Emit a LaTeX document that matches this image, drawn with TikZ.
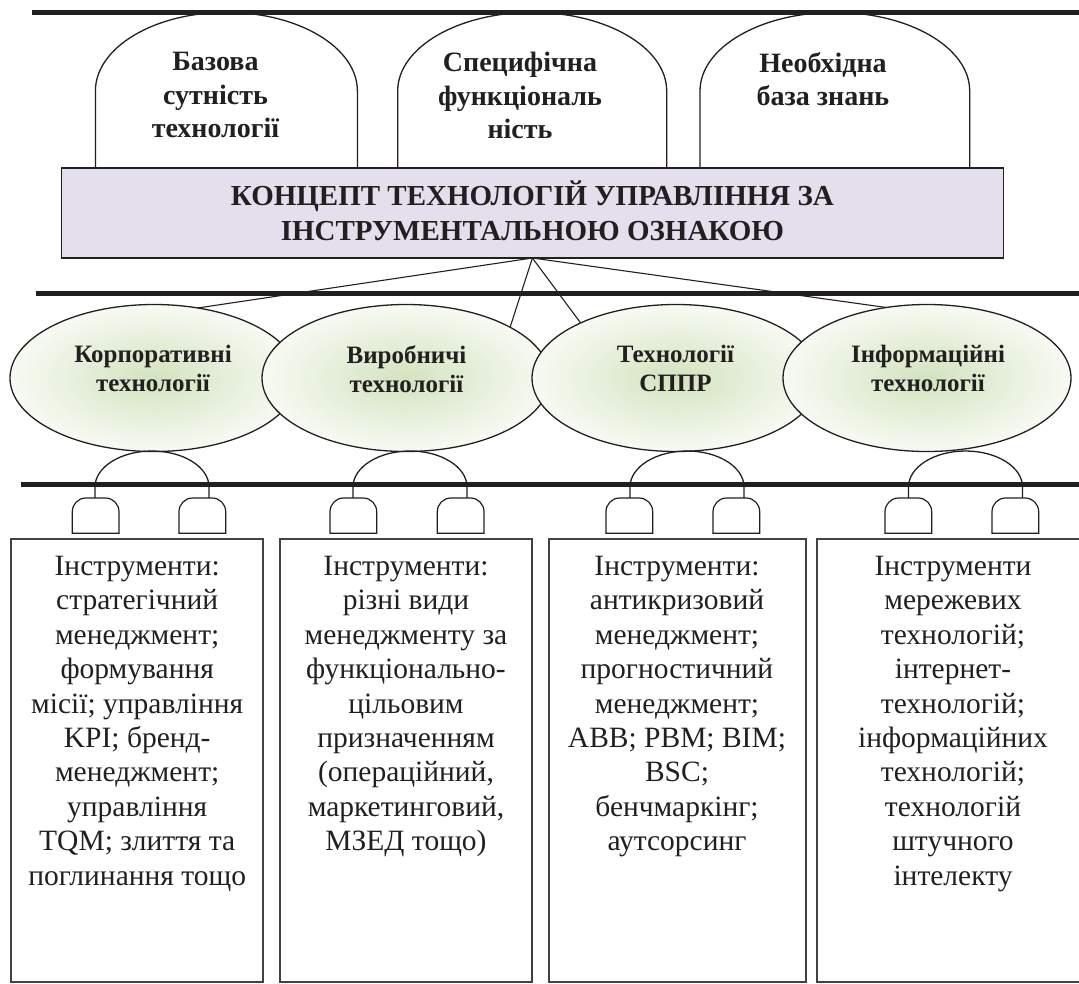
\documentclass[tikz,border=0pt]{standalone}
\usepackage{fontspec}
\setmainfont{Liberation Serif}
\usetikzlibrary{shapes.geometric}
\definecolor{ink}{HTML}{231F20}
\definecolor{lav}{HTML}{E4DFEC}
\definecolor{gin}{HTML}{D3E3BF}
\definecolor{gout}{HTML}{F7FAF3}
\tikzset{
  bar/.style={line width=4.5pt, draw=ink},
  outl/.style={line width=1.3pt, draw=ink},
  archtxt/.style={font=\bfseries\fontsize{28}{33.5}\selectfont, align=center, anchor=north, inner sep=0pt, text=ink},
  boxtxt/.style={font=\bfseries\fontsize{29}{35}\selectfont, align=center, anchor=south, inner sep=0pt, text=ink},
  elltxt/.style={font=\bfseries\fontsize{25}{29.4}\selectfont, align=center, anchor=north, inner sep=0pt, text=ink},
  recttxt/.style={font=\fontsize{29.5}{34.4}\selectfont, align=center, anchor=north, inner sep=0pt, text=ink},
  techell/.style={ellipse, draw=ink, line width=1.3pt, inner color=gin, outer color=gout, minimum width=288pt, minimum height=147pt, inner sep=0pt, outer sep=0pt},
  toolbox/.style={draw=ink!85, line width=2pt, anchor=north west, inner sep=0pt, outer sep=0pt},
  concept/.style={draw=ink, line width=1.3pt, fill=lav, inner sep=0pt, outer sep=0pt},
  link/.style={draw=ink, line width=1.1pt}
}
\begin{document}
\begin{tikzpicture}[x=1pt,y=-1pt]
\useasboundingbox (0,0) rectangle (1079,983);
% top arches
\draw[outl, fill=white] (95.4,168) -- (95.4,91) arc[start angle=180, end angle=0, x radius=131pt, y radius=78.6pt] -- (357.4,168);
\draw[outl, fill=white] (397.7,168) -- (397.7,91) arc[start angle=180, end angle=0, x radius=134.5pt, y radius=78.6pt] -- (666.7,168);
\draw[outl, fill=white] (700,168) -- (700,91) arc[start angle=180, end angle=0, x radius=134.85pt, y radius=78.6pt] -- (969.7,168);
\node[archtxt] (a1) at (215.5,52) {Базова\\сутність\\технології};
\node[archtxt] (a2) at (520,52) {Специфічна\\функціональ\\ність};
\node[archtxt] (a3) at (823,52) {Необхідна\\база знань};
% concept box
\node[concept, minimum width=942.2pt, minimum height=90pt] (concept) at (532.4,213) {};
\node[boxtxt] (ctext) at (532.4,240.5) {КОНЦЕПТ ТЕХНОЛОГІЙ УПРАВЛІННЯ ЗА\\ІНСТРУМЕНТАЛЬНОЮ ОЗНАКОЮ};
% thick rules
\draw[bar] (32,12.4) -- (1079,12.4);
\draw[bar] (36,293.5) -- (1079,293.5);
% ellipses
\node[techell] (e1) at (154,378) {};
\node[techell] (e2) at (406,378) {};
\node[techell] (e3) at (676,378) {};
\node[techell] (e4) at (927,378) {};
\node[elltxt] (t1) at (153,345) {Корпоративні\\технології};
\node[elltxt] (t2) at (406.5,345) {Виробничі\\технології};
\node[elltxt] (t3) at (675.5,345) {Технології\\СППР};
\node[elltxt] (t4) at (928,345) {Інформаційні\\технології};
% connectors
\draw[link] (concept.south) -- (e1.58.7);
\draw[link] (concept.south) -- (e2.26);
\draw[link] (concept.south) -- (e3.150.6);
\draw[link] (concept.south) -- (e4.120.5);
% arcs under ellipses
\foreach \a in {95,353,630,908.5}{
  \draw[outl] (\a,498) -- (\a,487) arc[start angle=180, end angle=0, x radius=57pt, y radius=36pt] -- ++(0,11);
}
\draw[bar] (20.7,484.5) -- (1079,484.5);
% small tombstones
\foreach \x in {72.3,179,330,437.3,606,713,885,992}{
  \draw[outl, line width=1.2pt, fill=white] (\x,533.3) -- (\x,511.7) arc[start angle=180, end angle=90, x radius=13.5pt, y radius=13.7pt] -- ({\x+33.2},498) arc[start angle=90, end angle=0, x radius=13.5pt, y radius=13.7pt] -- ({\x+46.7},533.3) -- cycle;
}
% tool boxes
\node[toolbox, minimum width=252.3pt, minimum height=442.4pt] (r1) at (11,539.3) {};
\node[toolbox, minimum width=252pt, minimum height=442.4pt] (r2) at (280,539.3) {};
\node[toolbox, minimum width=257.1pt, minimum height=442.4pt] (r3) at (548.6,539.3) {};
\node[toolbox, minimum width=272pt, minimum height=442.4pt] (r4) at (817.3,539.3) {};
\node[recttxt] (x1) at (137.2,556) {Інструменти:\\стратегічний\\менеджмент;\\формування\\місії; управління\\KPI; бренд-\\менеджмент;\\управління\\TQM; злиття та\\поглинання тощо};
\node[recttxt] (x2) at (406,556) {Інструменти:\\різні види\\менеджменту за\\функціонально-\\цільовим\\призначенням\\(операційний,\\маркетинговий,\\МЗЕД тощо)};
\node[recttxt] (x3) at (677,556) {Інструменти:\\антикризовий\\менеджмент;\\прогностичний\\менеджмент;\\ABB; PBM; BIM;\\BSC;\\бенчмаркінг;\\аутсорсинг};
\node[recttxt] (x4) at (953,556) {Інструменти\\мережевих\\технологій;\\інтернет-\\технологій;\\інформаційних\\технологій;\\технологій\\штучного\\інтелекту};
\end{tikzpicture}
\end{document}
